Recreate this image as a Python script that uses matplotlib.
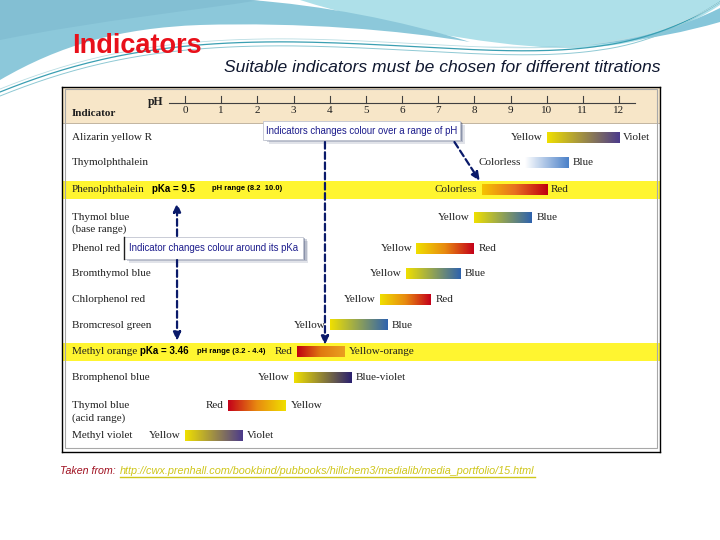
import numpy as np
import matplotlib
matplotlib.use("Agg")
import matplotlib.pyplot as plt
from matplotlib.colors import LinearSegmentedColormap
from matplotlib.path import Path
from matplotlib.patches import PathPatch, Rectangle

# ---- data ----
indicators = ["Alizarin yellow R", "Thymolphthalein", "Phenolphthalein",
              "Thymol blue\n(base range)", "Phenol red", "Bromthymol blue",
              "Chlorphenol red", "Bromcresol green", "Methyl orange",
              "Bromphenol blue", "Thymol blue\n(acid range)", "Methyl violet"]
ph_low = [10.0, 9.4, 8.2, 8.0, 6.4, 6.1, 5.4, 4.0, 3.1, 3.0, 1.2, 0.0]
ph_high = [12.0, 10.6, 10.0, 9.6, 8.0, 7.6, 6.8, 5.6, 4.4, 4.6, 2.8, 1.6]
low_colour = ["Yellow", "Colorless", "Colorless", "Yellow", "Yellow", "Yellow",
              "Yellow", "Yellow", "Red", "Yellow", "Red", "Yellow"]
high_colour = ["Violet", "Blue", "Red", "Blue", "Red", "Blue",
               "Red", "Blue", "Yellow-orange", "Blue-violet", "Yellow", "Violet"]
ph_ticks = list(range(13))
pka_text = {"Phenolphthalein": ("pKa = 9.5", "pH range (8.2  10.0)"),
            "Methyl orange": ("pKa = 3.46", "pH range (3.2 - 4.4)")}

# ---- styles / layout ----
row_y = [138, 162.5, 189.5, 217.5, 248.5, 274, 299.5, 325, 351.5, 377.5, 406, 435.5]
bar_stops = [
    ["#F0E000", "#4B3A8C"],
    ["#FFFFFF", "#4A80C8"],
    ["#F5C400", "#E87020", "#C00010"],
    ["#F0E000", "#2E62AE"],
    ["#F0E000", "#E88A10", "#C4001A"],
    ["#F0E000", "#2E62AE"],
    ["#F0E000", "#E88A10", "#C4001A"],
    ["#F0E000", "#2E62AE"],
    ["#C00010", "#E07A10", "#EAA020"],
    ["#F0E000", "#2A2070"],
    ["#C4001A", "#E88A10", "#F0E000"],
    ["#F0E000", "#4B3A8C"],
]
SERIF = "Liberation Serif"
SANS = "Liberation Sans"
NAVY = "#1C1C8C"

fig = plt.figure(figsize=(7.2, 5.4), dpi=100)
fig.patch.set_facecolor("white")

# ---- slide background (waves) ----
bg = fig.add_axes([0, 0, 1, 1], zorder=0)
bg.set_xlim(0, 720)
bg.set_ylim(540, 0)
bg.axis("off")


def bez(p0, p1, p2, p3, n=60):
    t = np.linspace(0, 1, n)[:, None]
    p0, p1, p2, p3 = map(np.array, (p0, p1, p2, p3))
    return (1 - t) ** 3 * p0 + 3 * (1 - t) ** 2 * t * p1 + 3 * (1 - t) * t ** 2 * p2 + t ** 3 * p3


verts = [(300, 0), (380, 25), (480, 45), (560, 48), (640, 50), (690, 25), (720, 5), (720, 0), (300, 0)]
codes = [Path.MOVETO, Path.CURVE4, Path.CURVE4, Path.CURVE4, Path.CURVE4, Path.CURVE4, Path.CURVE4,
         Path.LINETO, Path.CLOSEPOLY]
bg.add_patch(PathPatch(Path(verts, codes), fc="#AEE0E9", ec="none"))
verts = [(480, 46), (560, 50), (640, 48), (720, 8), (720, 22), (650, 42), (580, 50), (480, 46)]
codes = [Path.MOVETO, Path.CURVE4, Path.CURVE4, Path.CURVE4, Path.LINETO,
         Path.CURVE4, Path.CURVE4, Path.CURVE4]
bg.add_patch(PathPatch(Path(verts, codes), fc="#86C6DA", ec="none"))

verts = [(0, 0), (0, 80), (60, 45), (120, 28), (200, 25), (300, 22), (400, 30), (470, 42),
         (400, 20), (320, 5), (250, 0), (0, 0)]
codes = [Path.MOVETO, Path.LINETO, Path.CURVE4, Path.CURVE4, Path.CURVE4, Path.CURVE4, Path.CURVE4,
         Path.CURVE4, Path.CURVE4, Path.CURVE4, Path.CURVE4, Path.CLOSEPOLY]
bg.add_patch(PathPatch(Path(verts, codes), fc="#8CC8DA", ec="none"))
verts = [(0, 0), (0, 40), (100, 20), (200, 10), (260, 0), (0, 0)]
codes = [Path.MOVETO, Path.LINETO, Path.CURVE4, Path.CURVE4, Path.CURVE4, Path.CLOSEPOLY]
bg.add_patch(PathPatch(Path(verts, codes), fc="#7DB9CF", ec="none", alpha=0.6))

for off, col, lw in [(0, "#3A9FB2", 0.9), (4, "#8FC9D4", 0.7), (-3, "#B9DDE3", 0.6)]:
    c1 = bez((0, 92 + off), (80, 60 + off), (160, 40 + off), (300, 42 + off))
    c2 = bez((300, 42 + off), (420, 44 + off), (520, 58 + off), (600, 46 + off))
    c3 = bez((600, 46 + off), (660, 38 + off), (700, 15), (720, 2))
    c = np.vstack([c1, c2, c3])
    bg.plot(c[:, 0], c[:, 1], color=col, lw=lw)

bg.text(72, 46, "Indicators", color="#E8101A", fontsize=19.5, fontweight="bold",
        family=SANS, va="center", ha="left")
bg.text(224, 68, "Suitable indicators must be chosen for different titrations",
        color="#101830", fontsize=12.6, style="italic", family=SANS, va="center", ha="left")

t1 = bg.text(60, 471, "Taken from: ", color="#A01020", fontsize=7.7, style="italic",
             family=SANS, va="center", ha="left")
url = bg.text(120, 471, "http://cwx.prenhall.com/bookbind/pubbooks/hillchem3/medialib/media_portfolio/15.html",
              color="#CFC61A", fontsize=7.8, style="italic", family=SANS, va="center", ha="left")

# ---- chart ----
x_px0, x_px1, y_px0, y_px1 = 62, 660, 87, 452
ax = fig.add_axes([x_px0 / 720, 1 - y_px1 / 540, (x_px1 - x_px0) / 720, (y_px1 - y_px0) / 540], zorder=1)
px_per_ph = (619 - 185) / 12.0
xlo = (x_px0 - 185) / px_per_ph
xhi = (x_px1 - 185) / px_per_ph
ax.set_facecolor("white")

# header band
ax.axhspan(87, 123, color="#F7E6C8", zorder=1, lw=0)
ax.axhline(123, color="#B8A890", lw=0.6, zorder=2)
# pH scale
ax.plot([-0.45, 12.45], [103, 103], color="#404040", lw=0.8, zorder=3)
for t in ph_ticks:
    ax.plot([t, t], [96, 103], color="#404040", lw=0.8, zorder=3)
    ax.text(t, 110.5, str(t), ha="center", va="center", fontsize=8, family=SERIF, color="#202020")
ax.text(-0.6, 102, "pH", ha="right", va="center", fontsize=8.5, family=SERIF,
        fontweight="bold", color="#202020")
ax.text(xlo + 0.28, 113, "Indicator", ha="left", va="center", fontsize=8, family=SERIF,
        fontweight="bold", color="#202020")

bar_h = 11
for i, name in enumerate(indicators):
    y = row_y[i]
    if name in pka_text:
        ax.axhspan(y - 9, y + 9, color="#FFF530", zorder=1, lw=0)
    label_y = y + 6 if "\n" in name else y
    ax.text(xlo + 0.28, label_y, name, ha="left", va="center", fontsize=8, family=SERIF,
            color="#202020", linespacing=1.45, zorder=4)
    cm = LinearSegmentedColormap.from_list("g%d" % i, bar_stops[i])
    ax.imshow(np.linspace(0, 1, 256).reshape(1, -1), cmap=cm, aspect="auto",
              extent=(ph_low[i], ph_high[i], y + bar_h / 2, y - bar_h / 2),
              interpolation="bilinear", zorder=3)
    ax.text(ph_low[i] - 0.12, y, low_colour[i], ha="right", va="center", fontsize=8,
            family=SERIF, color="#202020", zorder=4)
    ax.text(ph_high[i] + 0.12, y, high_colour[i], ha="left", va="center", fontsize=8,
            family=SERIF, color="#202020", zorder=4)

# pKa notes
ax.text(-0.91, row_y[2], pka_text["Phenolphthalein"][0], ha="left", va="center", fontsize=7,
        family=SANS, fontweight="bold", zorder=4)
ax.text(0.75, row_y[2] - 1, pka_text["Phenolphthalein"][1], ha="left", va="center", fontsize=5.5,
        family=SANS, fontweight="bold", zorder=4)
ax.text(-1.24, row_y[8], pka_text["Methyl orange"][0], ha="left", va="center", fontsize=7,
        family=SANS, fontweight="bold", zorder=4)
ax.text(0.33, row_y[8], pka_text["Methyl orange"][1], ha="left", va="center", fontsize=5.5,
        family=SANS, fontweight="bold", zorder=4)


def callout(x0, x1, y0, y1, text):
    w, h = x1 - x0, y1 - y0
    for k, a in [(3, 0.15), (2, 0.25), (1, 0.35)]:
        ax.add_patch(Rectangle((x0 + 0.05 * k, y0 + 1.2 * k), w, h, fc="#3A4870", ec="none",
                               alpha=a, zorder=5))
    ax.add_patch(Rectangle((x0, y0), w, h, fc="white", ec="#C0C4D0", lw=0.6, zorder=6))
    ax.text((x0 + x1) / 2, (y0 + y1) / 2, text, ha="center", va="center", fontsize=6.9,
            family=SANS, color=NAVY, zorder=7)


def dashed_arrow(x0, y0, x1, y1):
    ax.annotate("", xy=(x1, y1), xytext=(x0, y0),
                arrowprops=dict(arrowstyle="-|>,head_length=0.5,head_width=0.22", color="#0A1A6A",
                                lw=1.6, linestyle=(0, (3, 1.6)), shrinkA=0, shrinkB=0), zorder=8)


dashed_arrow(3.87, 142, 3.87, 345)
dashed_arrow(7.45, 142, 8.15, 181)
dashed_arrow(-0.22, 236, -0.22, 203)
dashed_arrow(-0.22, 260, -0.22, 341)
callout(2.16, 7.6, 121, 140, "Indicators changes colour over a range of pH")
callout(-1.69, 3.26, 237, 259, "Indicator changes colour around its pKa")
ax.plot([-1.69, -1.69], [237, 259], color="#202020", lw=1.0, zorder=7)

ax.add_patch(Rectangle((xlo + 0.08, 88.5), xhi - xlo - 0.16, 359, fc="none", ec="#A8A8A8",
                       lw=0.8, zorder=9))
ax.set_xlim(xlo, xhi)
ax.set_ylim(452, 87)
ax.set_xticks([])
ax.set_yticks([])
for s in ax.spines.values():
    s.set_color("black")
    s.set_linewidth(1.0)

# underline the URL
fig.canvas.draw()
bb = url.get_window_extent().transformed(bg.transData.inverted())
bg.plot([bb.x0, bb.x1], [bb.y0 + 0.5, bb.y0 + 0.5], color="#CFC61A", lw=1.0)

fig.savefig("out.png", dpi=100)
